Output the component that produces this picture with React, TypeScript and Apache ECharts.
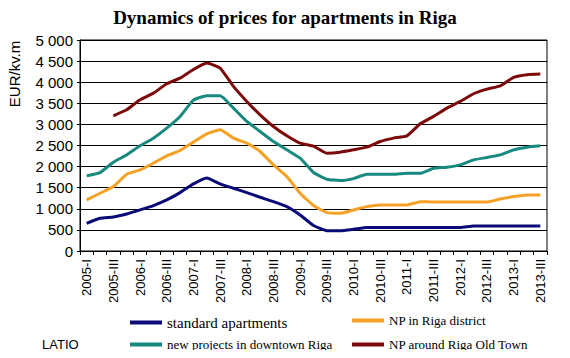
import React, { useEffect, useRef } from "react";
import * as echarts from "echarts";

const years = [2005, 2006, 2007, 2008, 2009, 2010, 2011, 2012, 2013];
const quarters = ["I", "II", "III", "IV"];
const categories: string[] = [];
years.forEach((y) =>
  quarters.forEach((q) => {
    if (!(y === 2013 && q === "IV")) categories.push(`${y}-${q}`);
  })
);

const standardApartments = [
  656, 775, 807, 878, 973, 1076, 1210, 1384, 1590, 1730, 1590, 1487, 1384, 1273, 1170, 1052, 854, 605,
  482, 482, 514, 554, 556, 556, 556, 556, 556, 556, 556, 593, 593, 593, 593, 593, 593,
];
const npRigaDistrict = [
  1210, 1368, 1527, 1819, 1922, 2080, 2254, 2381, 2580, 2776, 2871, 2674, 2555, 2357, 2041, 1764, 1368, 1080,
  910, 894, 973, 1052, 1092, 1092, 1092, 1170, 1160, 1160, 1160, 1160, 1160, 1234, 1289, 1329, 1329,
];
const newProjectsDowntown = [
  1780, 1859, 2104, 2278, 2492, 2674, 2911, 3188, 3575, 3678, 3678, 3385, 3069, 2832, 2594, 2397, 2199, 1860,
  1701, 1669, 1716, 1819, 1819, 1819, 1843, 1843, 1960, 1985, 2041, 2159, 2215, 2278, 2397, 2460, 2492,
];
const npOldTown: (number | null)[] = [
  null, null, 3204, 3346, 3583, 3741, 3963, 4097, 4300, 4453, 4335, 3900, 3544, 3227, 2950, 2729, 2555, 2484,
  2318, 2341, 2397, 2460, 2594, 2674, 2729, 3014, 3190, 3385, 3544, 3726, 3836, 3915, 4113, 4177, 4192,
];

const seriesNames = [
  "standard apartments",
  "NP in Riga district",
  "new projects in downtown Riga",
  "NP around Riga Old Town",
];
const seriesColors = ["#0a0a78", "#f5a125", "#17897f", "#7d0a0a"];
const seriesData = [standardApartments, npRigaDistrict, newProjectsDowntown, npOldTown];

const legendPos = [
  { left: 130, top: 315, size: 15 },
  { left: 352, top: 314, size: 13 },
  { left: 130, top: 338, size: 13 },
  { left: 352, top: 338, size: 13 },
];

export default function App() {
  const ref = useRef<HTMLDivElement>(null);
  useEffect(() => {
    if (!ref.current) return;
    const chart = echarts.init(ref.current, null, { renderer: "svg" });
    chart.setOption({
      animation: false,
      backgroundColor: "#ffffff",
      title: {
        text: "Dynamics of prices for apartments in Riga",
        left: "center",
        top: 3,
        textStyle: {
          fontFamily: "Liberation Serif",
          fontWeight: "bold",
          fontSize: 19,
          color: "#000",
        },
      },
      grid: {
        left: 80,
        right: 23,
        top: 40,
        bottom: 107,
        show: true,
        borderColor: "#000",
        borderWidth: 1,
        backgroundColor: "transparent",
      },
      legend: seriesNames.map((n, i) => ({
        data: [n],
        left: legendPos[i].left,
        top: legendPos[i].top,
        icon: "rect",
        itemWidth: 32,
        itemHeight: 4,
        itemGap: 6,
        padding: 0,
        selectedMode: false,
        textStyle: { fontFamily: "Liberation Serif", fontSize: legendPos[i].size, color: "#000" },
      })),
      xAxis: {
        type: "category",
        data: categories,
        boundaryGap: true,
        axisLine: { lineStyle: { color: "#000", width: 1 } },
        axisTick: { show: true, interval: 0, length: 4, lineStyle: { color: "#000" } },
        axisLabel: {
          interval: 1,
          rotate: 90,
          fontFamily: "Liberation Sans",
          fontSize: 13,
          color: "#000",
          margin: 8,
        },
        splitLine: { show: false },
      },
      yAxis: {
        type: "value",
        min: 0,
        max: 5000,
        interval: 500,
        axisLine: { show: true, lineStyle: { color: "#000" } },
        axisTick: { show: true, length: 3, lineStyle: { color: "#000" } },
        axisLabel: {
          fontFamily: "Liberation Sans",
          fontSize: 15,
          color: "#000",
          margin: 7,
          formatter: (v: number) => (v >= 1000 ? `${Math.floor(v / 1000)} ${String(v % 1000).padStart(3, "0")}` : `${v}`),
        },
        splitLine: { show: true, lineStyle: { color: "#000", width: 1 } },
      },
      graphic: [
        {
          type: "text",
          x: 14,
          y: 74,
          rotation: Math.PI / 2,
          style: {
            text: "EUR/kv.m",
            fontFamily: "Liberation Sans",
            fontSize: 15,
            fill: "#000",
            textAlign: "center",
            textVerticalAlign: "middle",
          },
        },
        {
          type: "text",
          x: 42,
          y: 344,
          style: {
            text: "LATIO",
            fontFamily: "Liberation Sans",
            fontSize: 13,
            fill: "#000",
            textAlign: "left",
            textVerticalAlign: "middle",
          },
        },
      ],
      series: seriesNames.map((n, i) => ({
        name: n,
        type: "line",
        data: seriesData[i],
        symbol: "none",
        smooth: 0.15,
        connectNulls: false,
        color: seriesColors[i],
        lineStyle: { width: 3, color: seriesColors[i] },
      })),
    });
    return () => chart.dispose();
  }, []);
  return <div ref={ref} style={{ width: 570, height: 358, margin: -8 }} />;
}
